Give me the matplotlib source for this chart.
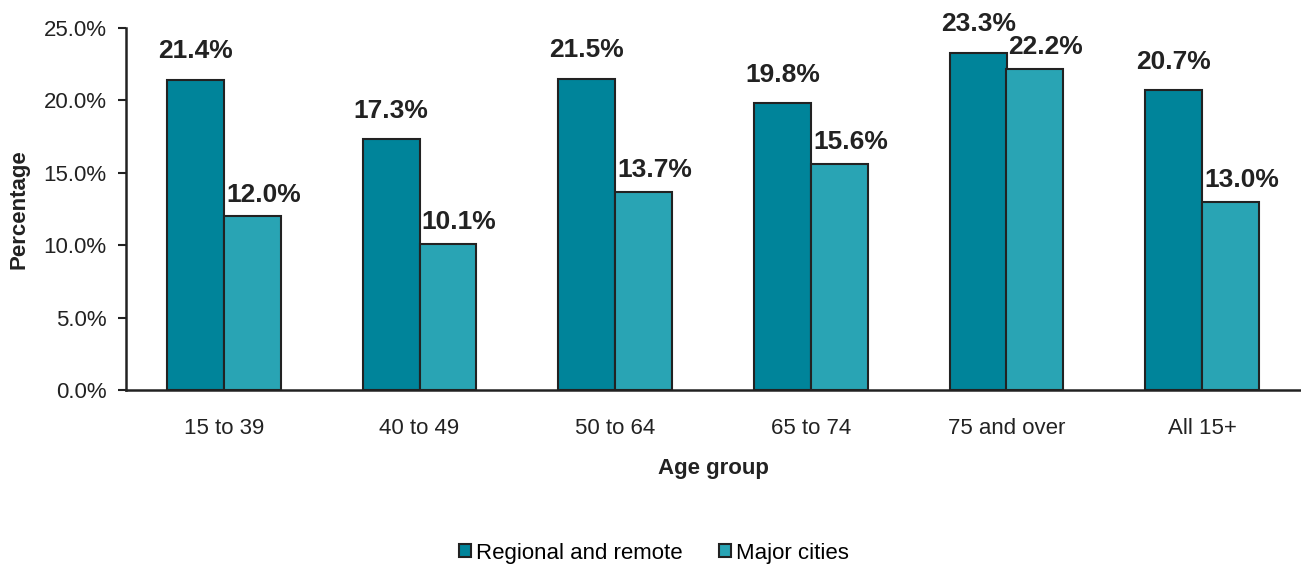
import numpy as np
import matplotlib.pyplot as plt
from matplotlib.ticker import FuncFormatter

plt.rcParams['font.family'] = ['Liberation Sans', 'DejaVu Sans']

groups = ['15 to 39', '40 to 49', '50 to 64', '65 to 74', '75 and over', 'All 15+']
regional = [21.4, 17.3, 21.5, 19.8, 23.3, 20.7]
major = [12.0, 10.1, 13.7, 15.6, 22.2, 13.0]

dark = '#00849A'
light = '#29A4B4'
edge = '#222222'

fig = plt.figure(figsize=(13.01, 5.67), dpi=100)
ax = fig.add_axes([126 / 1301, 1 - 390 / 567, 1174 / 1301, 362 / 567])

x = np.arange(len(groups))
w = 0.29
b1 = ax.bar(x - w / 2, regional, w, color=dark, edgecolor=edge, linewidth=1.5, label='Regional and remote')
b2 = ax.bar(x + w / 2, major, w, color=light, edgecolor=edge, linewidth=1.5, label='Major cities')

# value labels: the light series sits a little lower and nudged right
for bars, vals, off in [(b1, regional, (0, 12)), (b2, major, (8, 7))]:
    for r, v in zip(bars, vals):
        ax.annotate('%.1f%%' % v, (r.get_x() + r.get_width() / 2, v), xytext=off,
                    textcoords='offset points', ha='center', va='bottom',
                    fontsize=19, fontweight='bold', color='#222222')

ax.set_xlim(-0.5, len(groups) - 0.5)
ax.set_ylim(0, 25)
ax.set_yticks(np.arange(0, 25.1, 5))
ax.yaxis.set_major_formatter(FuncFormatter(lambda v, p: '%.1f%%' % v))
ax.set_xticks(x)
ax.set_xticklabels(groups)
ax.tick_params(axis='x', length=0, pad=20, labelsize=16, colors='#222222')
ax.tick_params(axis='y', length=6, width=1.5, pad=8, labelsize=16, colors='#222222')
for s in ['top', 'right']:
    ax.spines[s].set_visible(False)
for s in ['left', 'bottom']:
    ax.spines[s].set_linewidth(1.8)
    ax.spines[s].set_color('#222222')

ax.set_xlabel('Age group', fontsize=16, fontweight='bold', labelpad=14, color='#222222')
ax.set_ylabel('Percentage', fontsize=16, fontweight='bold', labelpad=10, color='#222222')

fig.legend(loc='center', bbox_to_anchor=(654 / 1301, 1 - 553 / 567), ncol=2, frameon=False,
           fontsize=16, handlelength=0.55, handleheight=0.55, handletextpad=0.25, columnspacing=1.6)

fig.savefig('out.png', dpi=100)
